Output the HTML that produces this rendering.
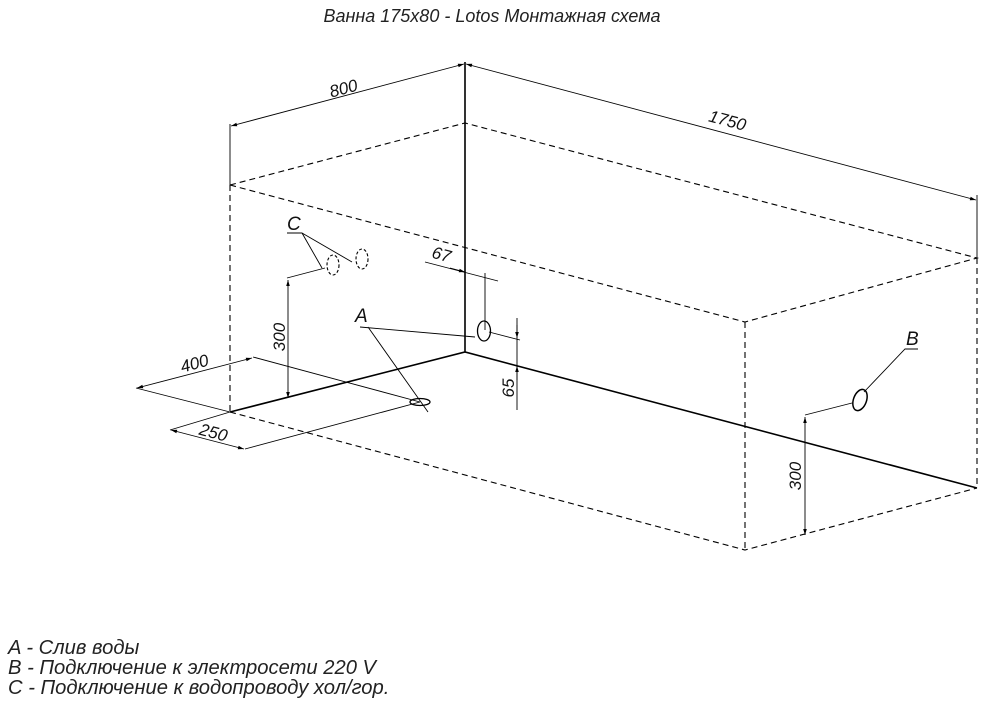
<!DOCTYPE html>
<html><head><meta charset="utf-8"><style>
body{margin:0;background:#fff;width:984px;height:704px;overflow:hidden;font-family:"Liberation Sans",sans-serif}
</style></head><body>
<svg width="984" height="704" viewBox="0 0 984 704" xmlns="http://www.w3.org/2000/svg">
<defs><marker id="ar" viewBox="0 0 10 10" refX="10" refY="5" markerWidth="12" markerHeight="6" markerUnits="userSpaceOnUse" orient="auto-start-reverse"><path d="M0,2 L10,5 L0,8 z" fill="#000"/></marker></defs>
<g font-family="Liberation Sans, sans-serif" font-style="italic" fill="#222">
<text x="492" y="22" font-size="18" text-anchor="middle">Ванна 175x80 - Lotos Монтажная схема</text>
<text x="8" y="654" font-size="20.2">A - Слив воды</text>
<text x="8" y="674" font-size="20.2">B - Подключение к электросети 220 V</text>
<text x="8" y="694" font-size="20.2">C - Подключение к водопроводу хол/гор.</text>
</g>
<g stroke="#000" fill="none" stroke-width="1.1" stroke-dasharray="6,4">
<path d="M230,185 L465,123 L977,258 L745,322 Z"/>
<path d="M230,185 V412 M745,322 V550 M977,258 V488"/>
<path d="M230,412 L745,550 L977,488"/>
<ellipse cx="333" cy="265" rx="6" ry="10" stroke-dasharray="3,2"/>
<ellipse cx="362" cy="259" rx="6" ry="10" stroke-dasharray="3,2"/>
</g>
<g stroke="#000" fill="none" stroke-width="1.6">
<path d="M465,62 V352 M230,412 L465,352 L977,488"/>
</g>
<g stroke="#000" fill="none" stroke-width="0.9">
<path d="M230,185 V124 M977,258 V195"/>
<path d="M231,126 L464,64" marker-start="url(#ar)" marker-end="url(#ar)"/>
<path d="M466,64 L976,200" marker-start="url(#ar)" marker-end="url(#ar)"/>
<path d="M230,412 L136,388 M253,357 L420,402 M170,430 L230,412 M245,449 L420,402"/>
<path d="M137,388 L252,358" marker-start="url(#ar)" marker-end="url(#ar)"/>
<path d="M171,430 L244,449" marker-start="url(#ar)" marker-end="url(#ar)"/>
<path d="M288,280 L288,398" marker-start="url(#ar)" marker-end="url(#ar)"/>
<path d="M287,278 L325,268"/>
<path d="M287,233 H302 L322,268 M302,233 L352,262"/>
<path d="M425,262 L498,281"/>
<path d="M450,268 L465,272" marker-end="url(#ar)"/>
<path d="M485,273 V330"/>
<ellipse cx="484" cy="331" rx="6.5" ry="10" stroke-width="1.3"/>
<path d="M360,327 L475,337 M368,327 L428,412"/>
<ellipse cx="420" cy="402" rx="10" ry="3.5" stroke-width="1.3"/>
<path d="M489,332 L520,340 M517,318 V410"/>
<path d="M517,325 V338" marker-end="url(#ar)"/>
<path d="M517,380 V366" marker-end="url(#ar)"/>
<ellipse cx="860" cy="400" rx="6.5" ry="11" transform="rotate(20 860 400)" stroke-width="1.5"/>
<path d="M864,392 L905,349 H918 M805,415 L852,403"/>
<path d="M805,417 L805,535" marker-start="url(#ar)" marker-end="url(#ar)"/>
</g>
<g font-family="Liberation Sans, sans-serif" font-style="italic" font-size="17" fill="#111">
<text transform="translate(345,94) rotate(-15)" text-anchor="middle">800</text>
<text transform="translate(726,126) rotate(15)" text-anchor="middle">1750</text>
<text transform="translate(196,369) rotate(-15)" text-anchor="middle">400</text>
<text transform="translate(212,438) rotate(15)" text-anchor="middle">250</text>
<text transform="translate(285,337) rotate(-90)" text-anchor="middle">300</text>
<text transform="translate(440,260) rotate(15)" text-anchor="middle">67</text>
<text transform="translate(514,388) rotate(-90)" text-anchor="middle">65</text>
<text transform="translate(801,476) rotate(-90)" text-anchor="middle">300</text>
<text x="287" y="230" font-size="19">C</text>
<text x="355" y="322" font-size="19">A</text>
<text x="906" y="345" font-size="19">B</text>
</g>
</svg>
</body></html>
